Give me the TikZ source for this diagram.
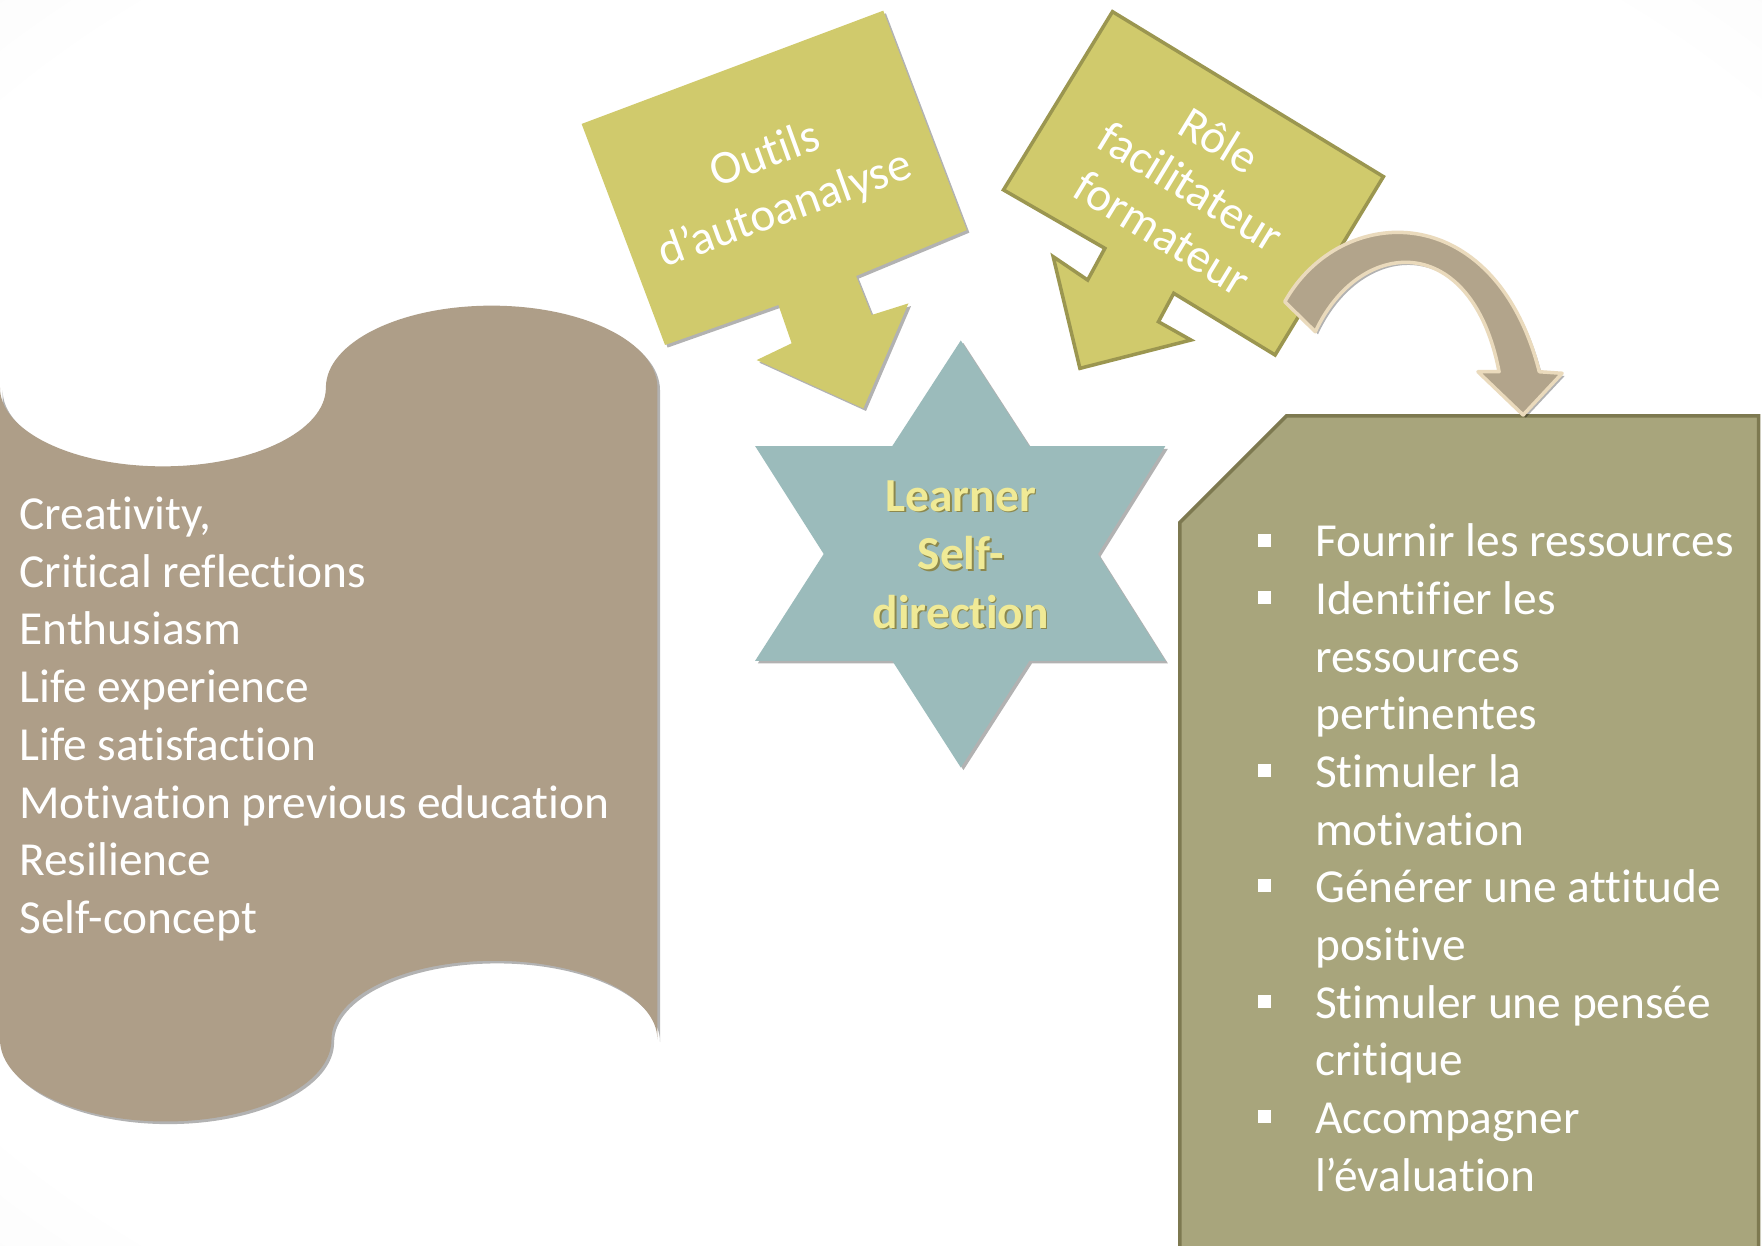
\documentclass[tikz,border=0pt]{standalone}
\usepackage{fontspec}
\setmainfont{Carlito}[Ligatures=NoCommon]
\usetikzlibrary{shadows}

\definecolor{scrollbrown}{RGB}{174,158,136}
\definecolor{calloutolive}{RGB}{208,202,108}
\definecolor{calloutedge}{RGB}{155,150,80}
\definecolor{startea}{RGB}{155,187,187}
\definecolor{boxolive}{RGB}{168,165,124}
\definecolor{boxedge}{RGB}{125,121,80}
\definecolor{bendtan}{RGB}{178,164,139}
\definecolor{bendlight}{RGB}{234,218,188}
\definecolor{starink}{RGB}{240,234,150}
\definecolor{starrim}{RGB}{140,136,78}

\pgfdeclareradialshading{vignette}{\pgfpoint{0bp}{0bp}}{color(0bp)=(white); color(32bp)=(white); color(52bp)=(black!6); color(72bp)=(black!16)}

\begin{document}
\begin{tikzpicture}[
    x=0.0225cm, y=-0.0225cm,
    every node/.style={font=\fontsize{27}{33}\selectfont, text=white, inner sep=0pt},
    softshadow/.style={drop shadow={shadow xshift=1.5pt, shadow yshift=-1.5pt, opacity=0.3, fill=black}},
    item/.style={anchor=base west},
    bulletsq/.style={fill=white, minimum size=0.26cm},
    centre/.style={anchor=base, font=\bfseries\fontsize{27}{33}\selectfont}
  ]
  \useasboundingbox (0,0) rectangle (1568,1108);
  \shade[shading=vignette] (0,0) rectangle (1568,1108);
  \clip (0,0) rectangle (1568,1108);

  % scroll on the left
  \fill[scrollbrown, softshadow] (0,345)
    arc[start angle=180, end angle=0, x radius=145, y radius=70]
    arc[start angle=180, end angle=360, x radius=147.5, y radius=73]
    -- (585,925)
    arc[start angle=0, end angle=-180, x radius=145, y radius=70]
    arc[start angle=0, end angle=180, x radius=147.5, y radius=73]
    -- cycle;

  % callouts
  \fill[calloutolive, softshadow] (517.6,110.3) -- (786,9.5) -- (860.3,204.7)
    -- (761.8,245.6) -- (775.7,280.3) -- (808.4,270) -- (768.3,363.4)
    -- (673.4,320.4) -- (704.5,305.5) -- (692.7,271.4) -- (591.8,307) -- cycle;
  \filldraw[fill=calloutolive, draw=calloutedge, line width=2pt] (990,10.4) -- (1231.1,157.2)
    -- (1134.7,315.9) -- (1044.5,261) -- (1030.9,286.3) -- (1059.8,302.6)
    -- (961,327.8) -- (937.2,228.4) -- (967.9,249.2) -- (983.2,221) -- (893,169) -- cycle;

  % star
  \fill[startea, softshadow] (855,303) -- (916,397) -- (1037,397) -- (977,493)
    -- (1037,588) -- (916,588) -- (855,683) -- (794,588) -- (672,588)
    -- (733,493) -- (672,397) -- (794,397) -- cycle;

  % box on the right
  \filldraw[fill=boxolive, draw=boxedge, line width=2pt] (1145,370) -- (1565,370)
    -- (1565,1130) -- (1050,1130) -- (1050,465) -- cycle;

  % bent arrow
  \filldraw[fill=bendtan, draw=bendlight, line width=2pt, line join=round, softshadow]
    (1143.3,268.5) .. controls (1193,180) and (1330,175) .. (1369.8,330.8)
    -- (1390.1,332.2) -- (1355.4,369.3) -- (1315.2,330.8) -- (1334,330.8)
    .. controls (1310,205) and (1210,210) .. (1170.5,295.2) -- cycle;

  % texts
  \foreach \txt [count=\i] in {{Creativity,}, Critical reflections, Enthusiasm,
      Life experience, Life satisfaction, Motivation previous education,
      Resilience, Self-concept} {
    \node[item] (l\i) at (17,{471+(\i-1)*51.4}) {\txt};
  }

  \node[rotate=20, align=center] (tools) at (690,163) {Outils\\d’autoanalyse};
  \node[rotate=-31.4, align=center, font=\fontsize{27}{31}\selectfont] (role) at (1060,166)
    {Rôle\\facilitateur\\formateur};

  \foreach \w/\yb [count=\k] in {Learner/455, Self-/507, direction/559} {
    \node[centre, text=starrim, shift={(0.9pt,-0.9pt)}] at (855,\yb) {\w};
    \node[centre, text=starink] (star\k) at (855,\yb) {\w};
  }

  \foreach \txt/\bul [count=\i] in {Fournir les ressources/1, Identifier les/1,
      ressources/0, pertinentes/0, Stimuler la/1, motivation/0,
      Générer une attitude/1, positive/0, Stimuler une pensée/1, critique/0,
      Accompagner/1, l’évaluation/0} {
    \pgfmathsetmacro\yb{495.6+(\i-1)*51.3}
    \node[item] (r\i) at (1170,\yb) {\txt};
    \ifnum\bul=1 \node[bulletsq] (b\i) at (1125,\yb-15) {}; \fi
  }
\end{tikzpicture}
\end{document}
